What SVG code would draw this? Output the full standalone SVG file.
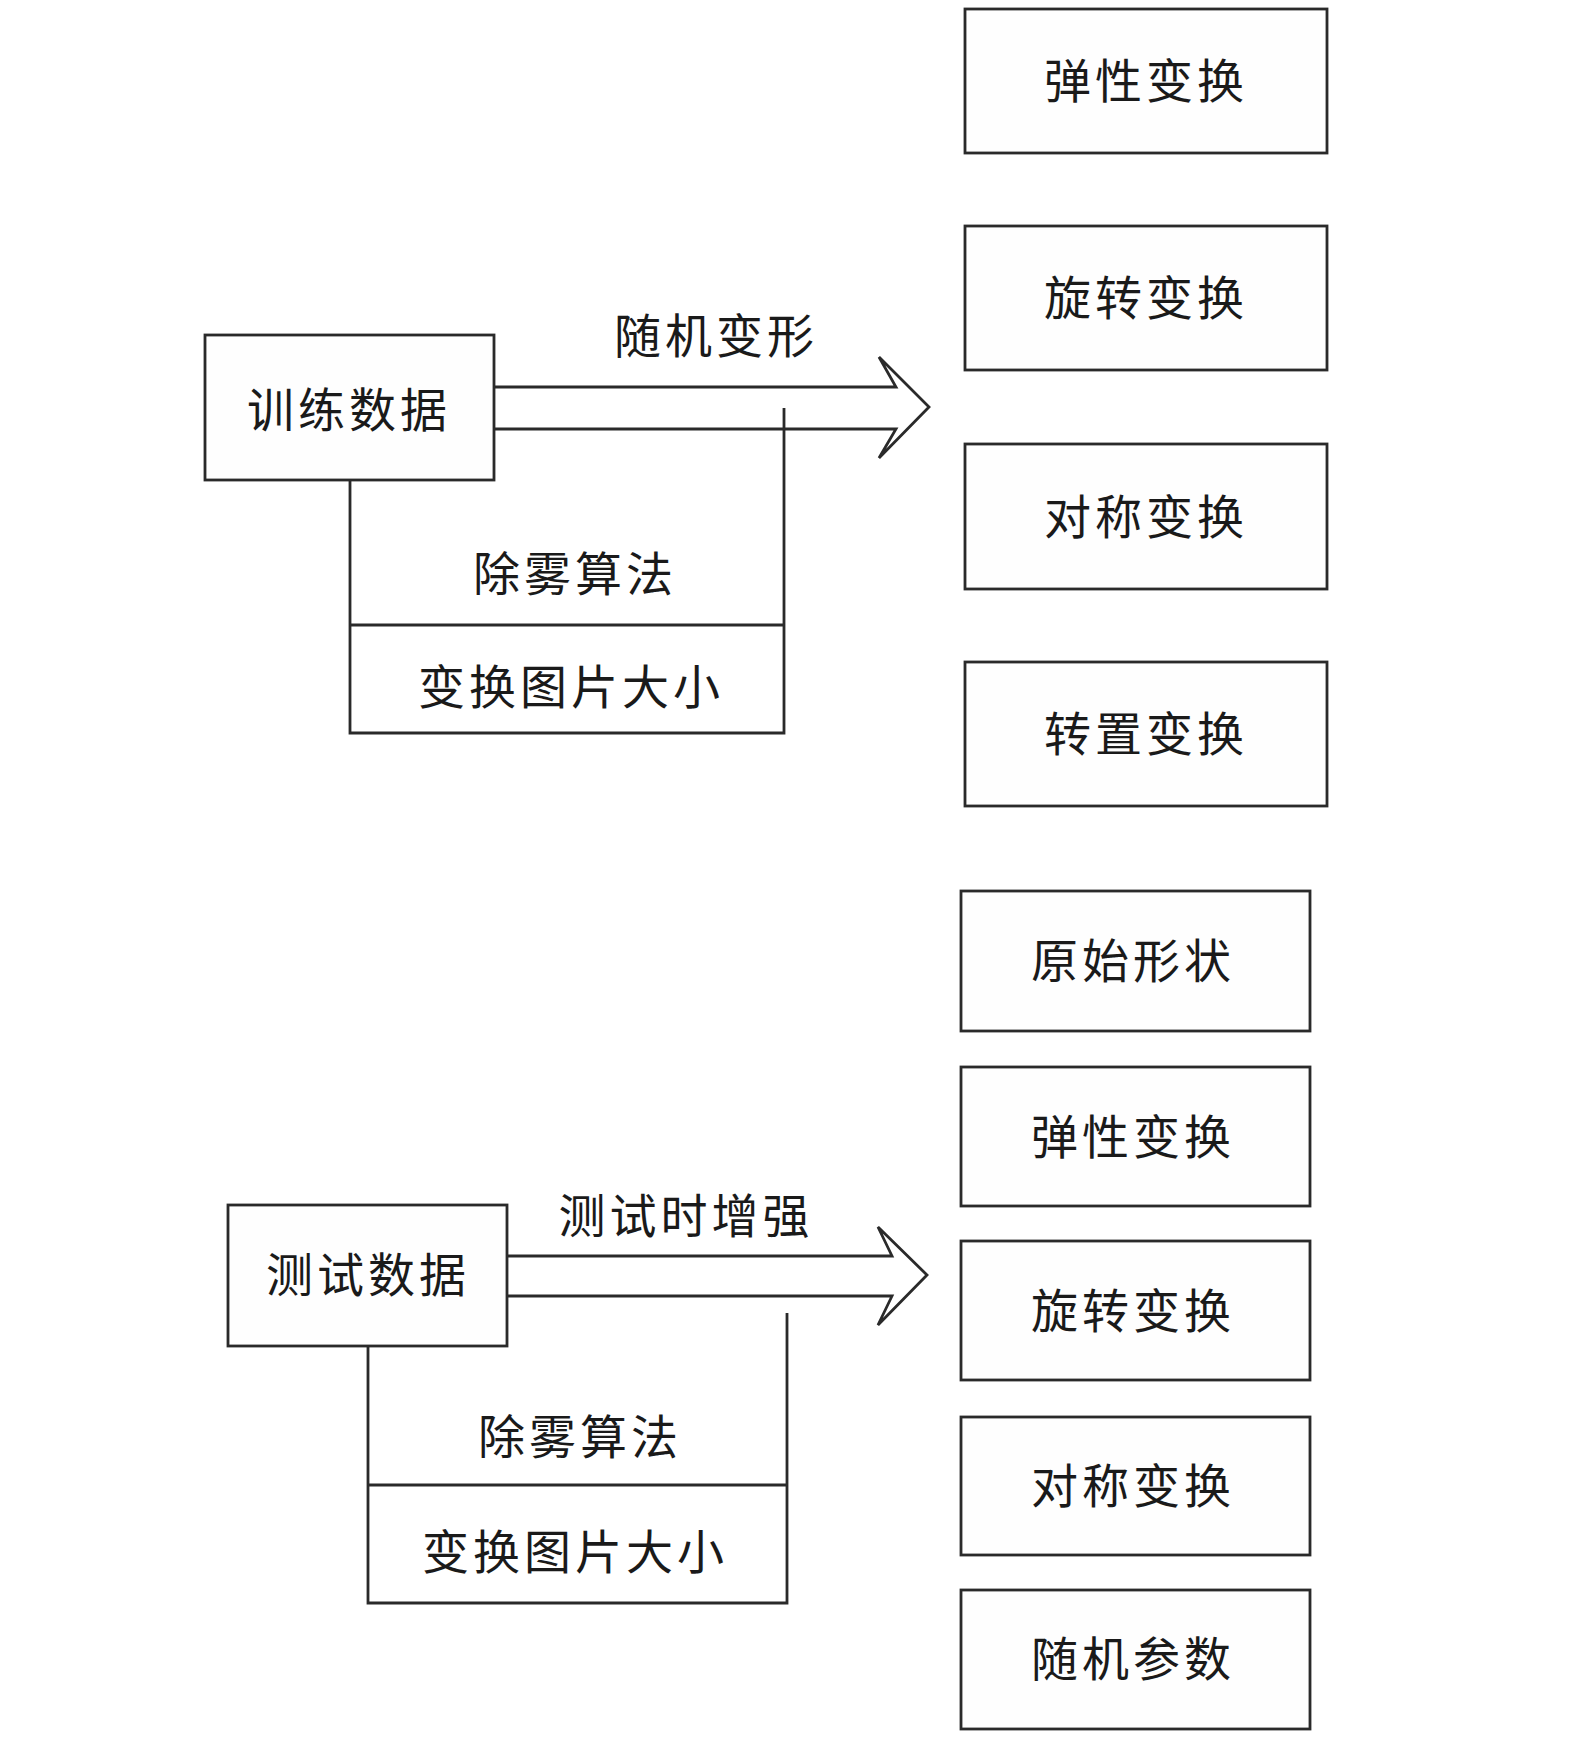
<svg xmlns="http://www.w3.org/2000/svg" width="1575" height="1738" viewBox="0 0 1575 1738">
<style>
.box{fill:#fefefe;stroke:#2a2a2a;stroke-width:2.8}
.ln{fill:none;stroke:#2a2a2a;stroke-width:2.8}
.t{font-family:"Noto Sans CJK SC","Noto Sans CJK JP",sans-serif;font-size:47px;fill:#1a1a1a;text-anchor:middle;dominant-baseline:central;letter-spacing:4px}
</style>
<rect width="1575" height="1738" fill="#ffffff"/>
<g id="top-right">
<g id="n-elastic1"><rect class="box" x="965" y="9" width="362" height="144"/><text class="t" x="1146" y="77">弹性变换</text></g>
<g id="n-rotate1"><rect class="box" x="965" y="226" width="362" height="144"/><text class="t" x="1146" y="294">旋转变换</text></g>
<g id="n-sym1"><rect class="box" x="965" y="444" width="362" height="145"/><text class="t" x="1146" y="513">对称变换</text></g>
<g id="n-transpose1"><rect class="box" x="965" y="662" width="362" height="144"/><text class="t" x="1146" y="730">转置变换</text></g>
</g>
<g id="bottom-right">
<g id="n-orig"><rect class="box" x="961" y="891" width="349" height="140"/><text class="t" x="1133" y="957">原始形状</text></g>
<g id="n-elastic2"><rect class="box" x="961" y="1067" width="349" height="139"/><text class="t" x="1133" y="1133">弹性变换</text></g>
<g id="n-rotate2"><rect class="box" x="961" y="1241" width="349" height="139"/><text class="t" x="1133" y="1307">旋转变换</text></g>
<g id="n-sym2"><rect class="box" x="961" y="1417" width="349" height="138"/><text class="t" x="1133" y="1482">对称变换</text></g>
<g id="n-random"><rect class="box" x="961" y="1590" width="349" height="139"/><text class="t" x="1133" y="1655">随机参数</text></g>
</g>
<g id="connectors">
<path class="ln" d="M494,387 L896,387 L879,357 L929,407 L879,458 L896,429 L494,429"/>
<path class="ln" d="M350,480 L350,733 L784,733 L784,408"/>
<path class="ln" d="M350,625 L784,625"/>
<path class="ln" d="M507,1256 L892,1256 L878,1227 L927,1275 L878,1325 L892,1296 L507,1296"/>
<path class="ln" d="M368,1346 L368,1603 L787,1603 L787,1313"/>
<path class="ln" d="M368,1485 L787,1485"/>
</g>
<g id="n-train"><rect class="box" x="205" y="335" width="289" height="145"/><text class="t" x="349" y="406">训练数据</text></g>
<g id="n-test"><rect class="box" x="228" y="1205" width="279" height="141"/><text class="t" x="368" y="1271">测试数据</text></g>
<g id="labels">
<text class="t" x="716" y="332">随机变形</text>
<text class="t" x="575" y="570">除雾算法</text>
<text class="t" x="571" y="683">变换图片大小</text>
<text class="t" x="686" y="1212">测试时增强</text>
<text class="t" x="580" y="1433">除雾算法</text>
<text class="t" x="575" y="1548">变换图片大小</text>
</g>
</svg>
